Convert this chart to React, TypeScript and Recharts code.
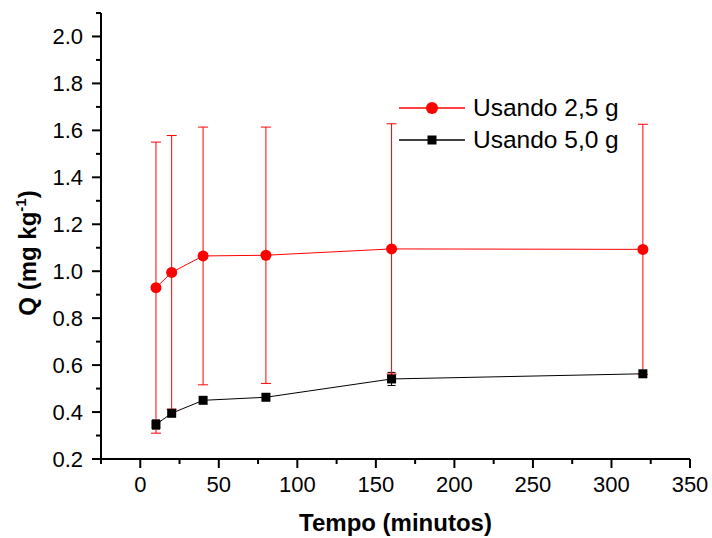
import { LineChart, Line, XAxis, YAxis, ErrorBar, Legend, Label } from "recharts";

// tempo (min) vs Q (mg/kg)
const tempo = [10, 20, 40, 80, 160, 320];
const q25 = [0.93, 0.995, 1.065, 1.068, 1.095, 1.093];
const q25Err = [0.62, 0.583, 0.549, 0.546, 0.533, 0.533];
const q50 = [0.347, 0.395, 0.45, 0.463, 0.541, 0.563];
const q50Err = [0.02, 0.015, 0.01, 0.01, 0.028, 0.01];

const seriesNames = ["Usando 2,5 g", "Usando 5,0 g"];

const xMajor = [0, 50, 100, 150, 200, 250, 300, 350];
const xMinor = [-25, 25, 75, 125, 175, 225, 275, 325];
const yMajor = [0.2, 0.4, 0.6, 0.8, 1.0, 1.2, 1.4, 1.6, 1.8, 2.0];
const yMinor = [0.3, 0.5, 0.7, 0.9, 1.1, 1.3, 1.5, 1.7, 1.9, 2.1];

const RED = "#ff0000";
const FONT = '"Liberation Sans", Arial, sans-serif';

const data = tempo.map((t, i) => ({
  t,
  a: q25[i],
  aErr: q25Err[i],
  b: q50[i],
  bErr: q50Err[i],
}));

const xTicks = [...xMajor, ...xMinor].sort((p, q) => p - q);
const yTicks = [...yMajor, ...yMinor].sort((p, q) => p - q);

const isMajor = (list: number[], v: number) => list.some((m) => Math.abs(m - v) < 1e-6);

function BottomTick(props: any) {
  const { x, y, payload } = props;
  const major = isMajor(xMajor, payload.value);
  return (
    <g>
      <line x1={x} x2={x} y1={y} y2={y + (major ? 9 : 5)} stroke="#000" strokeWidth={2} />
      {major && (
        <text x={x} y={y + 33} textAnchor="middle" fontSize={22} fontFamily={FONT} fill="#000">
          {payload.value}
        </text>
      )}
    </g>
  );
}

function LeftTick(props: any) {
  const { x, y, payload } = props;
  const major = isMajor(yMajor, payload.value);
  return (
    <g>
      <line x1={x - (major ? 9 : 5)} x2={x} y1={y} y2={y} stroke="#000" strokeWidth={2} />
      {major && (
        <text x={x - 18} y={y + 8} textAnchor="end" fontSize={22} fontFamily={FONT} fill="#000">
          {Number(payload.value).toFixed(1)}
        </text>
      )}
    </g>
  );
}

function TopTick(props: any) {
  const { x, y } = props;
  return <line x1={x} x2={x} y1={y - 3} y2={y} stroke="#000" strokeWidth={1.5} />;
}

function RightTick(props: any) {
  const { x, y } = props;
  return <line x1={x} x2={x + 3} y1={y} y2={y} stroke="#000" strokeWidth={1.5} />;
}

function Square(props: any) {
  const { cx, cy } = props;
  if (cx == null || cy == null) return <g />;
  return <rect x={cx - 4.5} y={cy - 4.5} width={9} height={9} fill="#000" />;
}

function XTitle(props: any) {
  const vb = props.viewBox;
  return (
    <text
      x={vb.x + vb.width / 2}
      y={vb.y + 72}
      textAnchor="middle"
      fontSize={24}
      fontWeight="bold"
      fontFamily={FONT}
      fill="#000"
    >
      Tempo (minutos)
    </text>
  );
}

function YTitle() {
  const x = 36;
  const y = 253;
  return (
    <text
      x={x}
      y={y}
      transform={`rotate(-90, ${x}, ${y})`}
      textAnchor="middle"
      fontSize={24}
      fontWeight="bold"
      fontFamily={FONT}
      fill="#000"
    >
      Q (mg kg
      <tspan fontSize={15} dy={-10}>-1</tspan>
      <tspan dy={10}>)</tspan>
    </text>
  );
}

function LegendBox() {
  const rows = [
    { label: seriesNames[0], color: RED, circle: true },
    { label: seriesNames[1], color: "#000", circle: false },
  ];
  return (
    <div style={{ fontFamily: FONT }}>
      {rows.map((r) => (
        <div key={r.label} style={{ display: "flex", alignItems: "center", height: 32 }}>
          <svg width={66} height={32}>
            <line x1={0} x2={66} y1={16} y2={16} stroke={r.color} strokeWidth={1.5} />
            {r.circle ? (
              <circle cx={33} cy={16} r={6} fill={r.color} />
            ) : (
              <rect x={28.5} y={11.5} width={9} height={9} fill={r.color} />
            )}
          </svg>
          <span style={{ marginLeft: 8, fontSize: 24.5, lineHeight: "32px", color: "#000", whiteSpace: "nowrap" }}>
            {r.label}
          </span>
        </div>
      ))}
    </div>
  );
}

export default function App() {
  return (
    <div style={{ position: "absolute", left: 0, top: 0, width: 712, height: 538, background: "#fff" }}>
      <LineChart width={712} height={538} data={data} margin={{ top: 13, right: 22, bottom: 0, left: 0 }}>
        <XAxis
          dataKey="t"
          type="number"
          domain={[-25, 350]}
          ticks={xTicks}
          interval={0}
          allowDataOverflow
          height={79}
          tickLine={false}
          tickSize={0}
          tickMargin={0}
          tick={<BottomTick />}
          axisLine={{ stroke: "#000", strokeWidth: 2 }}
        >
          <Label content={<XTitle />} />
        </XAxis>
        <XAxis
          xAxisId="top"
          orientation="top"
          dataKey="t"
          type="number"
          domain={[-25, 350]}
          ticks={xTicks}
          interval={0}
          allowDataOverflow
          height={0}
          tickLine={false}
          tickSize={0}
          tickMargin={0}
          tick={<TopTick />}
          axisLine={{ stroke: "#000", strokeWidth: 2 }}
        />
        <YAxis
          type="number"
          domain={[0.2, 2.1]}
          ticks={yTicks}
          interval={0}
          allowDataOverflow
          width={101}
          tickLine={false}
          tickSize={0}
          tickMargin={0}
          tick={<LeftTick />}
          axisLine={{ stroke: "#000", strokeWidth: 2 }}
        >
          <Label content={<YTitle />} />
        </YAxis>
        <YAxis
          yAxisId="right"
          orientation="right"
          type="number"
          domain={[0.2, 2.1]}
          ticks={yTicks}
          interval={0}
          allowDataOverflow
          width={0}
          tickLine={false}
          tickSize={0}
          tickMargin={0}
          tick={<RightTick />}
          axisLine={{ stroke: "#000", strokeWidth: 2 }}
        />
        <Legend
          layout="horizontal"
          verticalAlign="middle"
          align="center"
          content={<LegendBox />}
          wrapperStyle={{ left: 399, top: 92, width: "auto" }}
        />
        <Line
          dataKey="b"
          name={seriesNames[1]}
          stroke="#000"
          strokeWidth={1}
          dot={<Square />}
          activeDot={false}
          isAnimationActive={false}
        >
          <ErrorBar dataKey="bErr" width={4} stroke="#000" strokeWidth={1} direction="y" />
        </Line>
        <Line
          dataKey="a"
          name={seriesNames[0]}
          stroke={RED}
          strokeWidth={1}
          dot={{ r: 5.5, fill: RED, stroke: "none" }}
          activeDot={false}
          isAnimationActive={false}
        >
          <ErrorBar dataKey="aErr" width={5} stroke={RED} strokeWidth={1} direction="y" />
        </Line>
      </LineChart>
    </div>
  );
}
